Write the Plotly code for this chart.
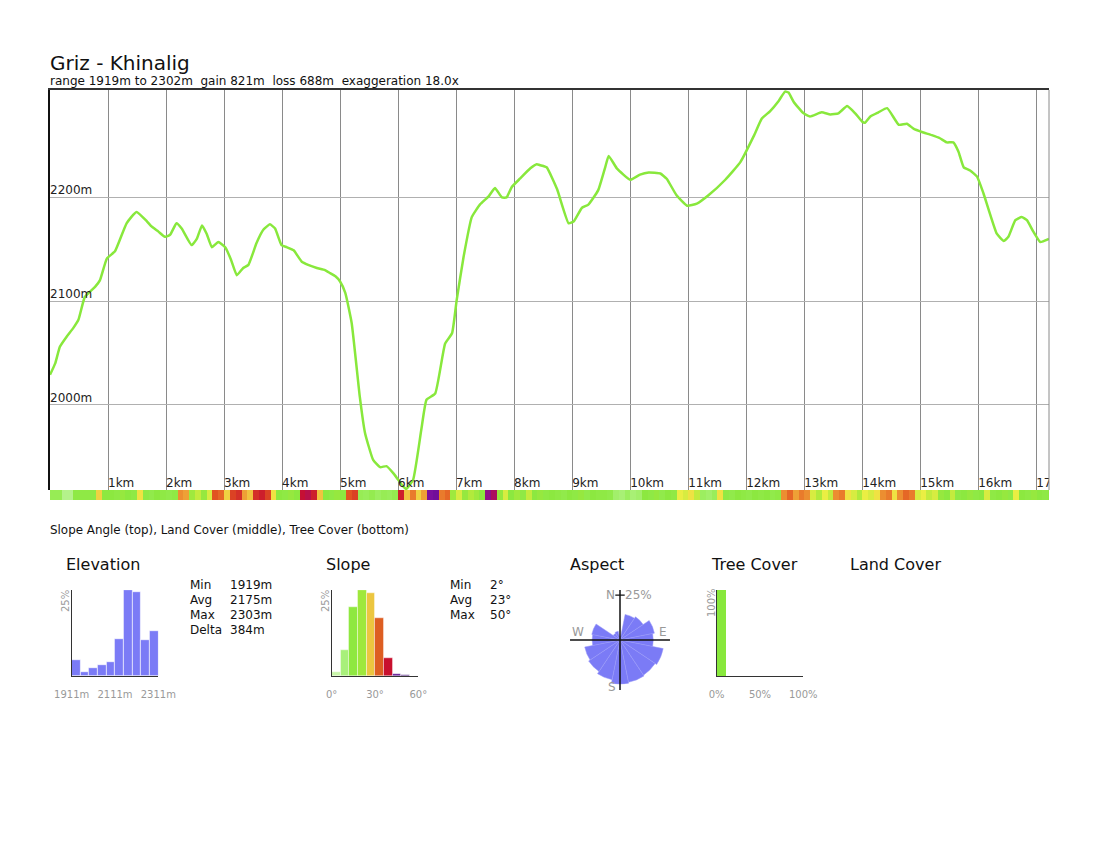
import plotly.graph_objects as go

W, H = 1100, 850
def px(x): return x / W
def py(y): return 1 - y / H

# ---------------- data ----------------
dist_km = [0.00, 0.09, 0.17, 0.29, 0.40, 0.49, 0.60, 0.78, 0.86, 0.98, 1.12, 1.32, 1.49, 1.67, 1.75,
           1.87, 1.98, 2.07, 2.18, 2.27, 2.44, 2.53, 2.62, 2.70, 2.79, 2.90, 3.02, 3.12, 3.22, 3.33,
           3.42, 3.56, 3.68, 3.79, 3.88, 3.99, 4.08, 4.20, 4.34, 4.45, 4.60, 4.74, 4.83, 4.92, 5.00,
           5.09, 5.20, 5.34, 5.43, 5.57, 5.69, 5.80, 5.92, 6.00, 6.08, 6.14, 6.26, 6.40, 6.49, 6.64,
           6.81, 6.93, 7.01, 7.13, 7.27, 7.41, 7.56, 7.67, 7.79, 7.87, 7.96, 8.10, 8.28, 8.39, 8.45,
           8.56, 8.74, 8.94, 9.03, 9.17, 9.28, 9.45, 9.57, 9.63, 9.77, 10.00, 10.17, 10.32, 10.52, 10.63,
           10.80, 10.98, 11.15, 11.35, 11.64, 11.90, 12.13, 12.27, 12.41, 12.56, 12.67, 12.73, 12.82, 12.99, 13.10,
           13.30, 13.45, 13.59, 13.74, 13.88, 14.00, 14.05, 14.14, 14.28, 14.43, 14.63, 14.77, 14.89, 15.03, 15.20,
           15.34, 15.46, 15.57, 15.66, 15.75, 15.86, 15.98, 16.09, 16.32, 16.44, 16.52, 16.64, 16.75, 16.84, 16.95,
           17.07, 17.22]
elev_m = [2029, 2040, 2056, 2066, 2074, 2082, 2104, 2114, 2120, 2141, 2148, 2175, 2186, 2177, 2172,
          2167, 2162, 2164, 2175, 2170, 2154, 2160, 2173, 2165, 2152, 2157, 2152, 2140, 2125, 2132,
          2135, 2156, 2169, 2174, 2170, 2154, 2152, 2149, 2138, 2135, 2132, 2130, 2127, 2124, 2119,
          2108, 2079, 2008, 1973, 1947, 1940, 1941, 1934, 1928, 1922, 1919, 1928, 1976, 2005, 2011,
          2059, 2069, 2101, 2143, 2181, 2193, 2201, 2209, 2200, 2200, 2210, 2218, 2228, 2232, 2231,
          2229, 2208, 2175, 2177, 2190, 2193, 2207, 2229, 2240, 2228, 2217, 2222, 2224, 2223, 2218,
          2202, 2192, 2194, 2202, 2217, 2234, 2259, 2276, 2283, 2293, 2302, 2301, 2292, 2281, 2278,
          2282, 2280, 2281, 2288, 2281, 2273, 2272, 2278, 2282, 2286, 2270, 2271, 2266, 2263, 2260,
          2257, 2253, 2253, 2244, 2229, 2226, 2220, 2204, 2165, 2158, 2162, 2178, 2181, 2178, 2167,
          2157, 2160]

# slope angle (deg) along the track, one value per 0.1 km
strip_slope = [14, 14, 8, 8, 17, 17, 17, 17, 27, 18, 18, 17, 19, 18, 17, 26, 17, 16, 18, 17,
               16, 17, 31, 30, 20, 23, 19, 24, 34, 33, 27, 35, 36, 30, 28, 36, 37, 35, 26, 18,
               17, 19, 18, 38, 39, 37, 28, 18, 17, 19, 18, 34, 35, 14, 13, 15, 12, 14, 13, 15,
               37, 28, 32, 27, 30, 44, 45, 32, 33, 20, 24, 19, 22, 20, 18, 42, 40, 19, 24, 18,
               20, 17, 23, 18, 19, 17, 18, 17, 16, 18, 17, 19, 16, 18, 17, 17, 16, 11, 10, 12,
               10, 11, 18, 17, 19, 16, 18, 17, 25, 24, 26, 23, 12, 11, 13, 26, 17, 16, 18, 17,
               16, 18, 17, 18, 16, 17, 31, 33, 30, 32, 31, 24, 22, 25, 23, 31, 32, 26, 24, 22,
               25, 24, 26, 31, 32, 26, 31, 33, 32, 24, 25, 23, 24, 19, 18, 23, 17, 18, 19, 17,
               18, 24, 17, 18, 19, 17, 25, 18, 17, 19, 18, 17, 18]
strip_step_km = 0.1

km_ticks = list(range(1, 18))
elev_gridlines = [2000, 2100, 2200]

elev_hist_edges_start = 1911
elev_hist_bin_m = 40
elev_hist_pct = [4.6, 1.3, 2.4, 3.2, 4.0, 10.8, 25.0, 24.5, 10.5, 13.2]

slope_bin_deg = 6
slope_hist_pct = [1.3, 7.6, 20.0, 25.0, 24.0, 16.8, 5.3, 0.6, 0.3, 0.0]
slope_bin_colors = ['#c8f5a8', '#a8f07a', '#8fe840', '#9fe83c', '#ecc640',
                    '#dd5e22', '#c8102e', '#5c1090', '#3c0870', '#300060']

aspect_dirs = [0, 22.5, 45, 67.5, 90, 112.5, 135, 157.5, 180, 202.5, 225, 247.5, 270, 292.5, 315, 337.5]
aspect_pct = [2.0, 14.5, 15.5, 19.5, 18.5, 24.5, 23.5, 24.0, 24.5, 22.5, 21.0, 20.0, 15.5, 16.0, 4.5, 5.0]

tree_cover_bins = [5]
tree_cover_pct = [100]

elev_stats = [("Min", "1919m"), ("Avg", "2175m"), ("Max", "2303m"), ("Delta", "384m")]
slope_stats = [("Min", "2°"), ("Avg", "23°"), ("Max", "50°")]

title_text = "Griz - Khinalig"
subtitle_parts = ["range 1919m to 2302m", "gain 821m", "loss 688m", "exaggeration 18.0x"]
strip_caption = "Slope Angle (top), Land Cover (middle), Tree Cover (bottom)"

LINE_GREEN = '#88e83c'
BLUE = '#7b7bf6'
GRAY_TXT = '#999999'
FONT = 'DejaVu Sans'

fig = go.Figure()

# ---------------- main profile ----------------
x_max = 17.22
y_min, y_max = 1918, 2303.5
fig.add_trace(go.Scatter(x=dist_km, y=elev_m, mode='lines',
                         line=dict(color=LINE_GREEN, width=2.5, shape='spline', smoothing=0.4),
                         xaxis='x', yaxis='y', hoverinfo='skip', cliponaxis=True))
fig.add_trace(go.Scatter(x=km_ticks, y=[y_min] * len(km_ticks), mode='text',
                         text=[f"{k}km" for k in km_ticks], textposition='top right',
                         textfont=dict(size=12, color='#222', family=FONT),
                         xaxis='x', yaxis='y', cliponaxis=True, hoverinfo='skip'))
fig.add_trace(go.Scatter(x=[0] * len(elev_gridlines), y=elev_gridlines, mode='text',
                         text=[f"{v}m" for v in elev_gridlines], textposition='top right',
                         textfont=dict(size=12, color='#222', family=FONT),
                         xaxis='x', yaxis='y', cliponaxis=True, hoverinfo='skip'))

# ---------------- slope strip ----------------
strip_x = [strip_step_km * (i + 0.5) for i in range(len(strip_slope))]
strip_scale = [
    [0.0, '#e4f8d8'], [0.10, '#c0f4a0'], [0.20, '#9cee60'], [0.30, '#8ce840'],
    [0.37, '#b4ea3c'], [0.42, '#eeee44'], [0.47, '#f0c040'], [0.52, '#ec8a30'],
    [0.57, '#e05020'], [0.63, '#c81030'], [0.72, '#8010a0'], [0.80, '#5a0890'], [1.0, '#300050']]
fig.add_trace(go.Heatmap(z=[strip_slope], x=strip_x, y=[0.5], zmin=0, zmax=60,
                         colorscale=strip_scale, showscale=False, xaxis='x2', yaxis='y2',
                         hoverinfo='skip'))

# ---------------- elevation histogram ----------------
elev_centers = [elev_hist_edges_start + elev_hist_bin_m * (i + 0.5) for i in range(len(elev_hist_pct))]
fig.add_trace(go.Bar(x=elev_centers, y=elev_hist_pct, width=elev_hist_bin_m,
                     marker=dict(color=BLUE, line=dict(color='white', width=0.6)),
                     xaxis='x3', yaxis='y3', hoverinfo='skip'))

# ---------------- slope histogram ----------------
slope_centers = [slope_bin_deg * (i + 0.5) for i in range(len(slope_hist_pct))]
fig.add_trace(go.Bar(x=slope_centers, y=slope_hist_pct, width=slope_bin_deg,
                     marker=dict(color=slope_bin_colors, line=dict(color='white', width=0.4)),
                     xaxis='x4', yaxis='y4', hoverinfo='skip'))

# ---------------- tree cover ----------------
fig.add_trace(go.Bar(x=tree_cover_bins, y=tree_cover_pct, width=10,
                     marker=dict(color=LINE_GREEN, line=dict(width=0)),
                     xaxis='x5', yaxis='y5', hoverinfo='skip'))

# ---------------- aspect rose ----------------
R_AX = 27.8
fig.add_trace(go.Barpolar(r=aspect_pct, theta=aspect_dirs, width=[22.5] * len(aspect_dirs),
                          marker=dict(color=BLUE, line=dict(color='#9a9af8', width=0.5)),
                          hoverinfo='skip'))
fig.add_trace(go.Scatterpolar(r=[R_AX, 0, R_AX], theta=[0, 0, 180], mode='lines',
                              line=dict(color='#111', width=1.5), hoverinfo='skip'))
fig.add_trace(go.Scatterpolar(r=[R_AX, 0, R_AX], theta=[90, 90, 270], mode='lines',
                              line=dict(color='#111', width=1.5), hoverinfo='skip'))
fig.add_trace(go.Scatterpolar(r=[25.1, 25.1], theta=[-6, 6], mode='lines',
                              line=dict(color='#111', width=1.2), hoverinfo='skip'))

# ---------------- axes ----------------
hidden = dict(visible=False, fixedrange=True, automargin=False)
small_x = dict(showline=True, linecolor='#333', linewidth=1, showgrid=False, zeroline=False,
               ticks='outside', ticklen=9, tickcolor='rgba(0,0,0,0)', automargin=False,
               tickfont=dict(size=10, color=GRAY_TXT, family=FONT), fixedrange=True)
small_y = dict(showline=True, linecolor='#333', linewidth=1, showgrid=False, zeroline=False,
               showticklabels=False, ticks='', fixedrange=True, automargin=False)

fig.update_layout(
    width=W, height=H, autosize=False, margin=dict(l=0, r=0, t=0, b=0, pad=0, autoexpand=False),
    paper_bgcolor='white', plot_bgcolor='white', showlegend=False,
    font=dict(family=FONT, color='#111'),
    bargap=0,
    xaxis=dict(domain=[px(50), px(1049)], range=[0, x_max], anchor='y', side='top',
               showline=True, linecolor='#333', linewidth=1.5, automargin=False,
               showgrid=True, tick0=0, dtick=1, gridcolor='#8a8a8a', gridwidth=1,
               showticklabels=False, ticks='', zeroline=False, fixedrange=True),
    yaxis=dict(domain=[py(490), py(90)], range=[y_min, y_max], anchor='x',
               showline=True, linecolor='#111', linewidth=1.5, automargin=False,
               tickvals=elev_gridlines, showgrid=True, gridcolor='#b0b0b0', gridwidth=1,
               showticklabels=False, ticks='', zeroline=False, fixedrange=True),
    xaxis2=dict(domain=[px(50), px(1049)], range=[0, x_max], anchor='y2', **hidden),
    yaxis2=dict(domain=[py(500), py(490)], range=[0, 1], anchor='x2', **hidden),
    xaxis3=dict(domain=[px(71.7), px(158.3)], range=[1911, 2311], anchor='y3',
                tickvals=[1911, 2111, 2311], ticktext=['1911m', '2111m', '2311m'], **small_x),
    yaxis3=dict(domain=[py(676), py(590)], range=[0, 25], anchor='x3', **small_y),
    xaxis4=dict(domain=[px(331.7), px(418.3)], range=[0, 60], anchor='y4',
                tickvals=[0, 30, 60], ticktext=['0°', '30°', '60°'], **small_x),
    yaxis4=dict(domain=[py(676), py(590)], range=[0, 25], anchor='x4', **small_y),
    xaxis5=dict(domain=[px(716.7), px(803.3)], range=[0, 100], anchor='y5',
                tickvals=[0, 50, 100], ticktext=['0%', '50%', '100%'], **small_x),
    yaxis5=dict(domain=[py(676), py(590)], range=[0, 100], anchor='x5', **small_y),
    polar=dict(domain=dict(x=[px(570), px(670)], y=[py(690), py(590)]), bgcolor='rgba(0,0,0,0)',
               radialaxis=dict(range=[0, R_AX], visible=False),
               angularaxis=dict(rotation=90, direction='clockwise', visible=False)),
)

# right border of main plot
fig.add_shape(type='line', xref='x domain', yref='y domain', x0=1, x1=1, y0=0, y1=1,
              line=dict(color='#8a8a8a', width=1))

anns = []
def txt(x, y, s, size, color='#111', angle=0, anchor='left'):
    anns.append(dict(x=px(x), y=py(y), xref='paper', yref='paper', text=s, showarrow=False,
                     xanchor=anchor, yanchor='middle', textangle=angle,
                     font=dict(size=size, color=color, family=FONT)))

NB2 = "\u00a0\u00a0"
txt(48, 63, title_text, 20)
txt(48, 80.5, NB2.join(subtitle_parts), 12)
txt(48, 530, strip_caption, 11.9)

txt(64, 564, "Elevation", 16)
txt(324, 564, "Slope", 16)
txt(568, 564, "Aspect", 16)
txt(709, 564, "Tree Cover", 16)
txt(848, 564, "Land Cover", 16)

for i, (k, v) in enumerate(elev_stats):
    txt(188, 585 + 15 * i, k, 12)
    txt(228, 585 + 15 * i, v, 12)
for i, (k, v) in enumerate(slope_stats):
    txt(448, 585 + 15 * i, k, 12)
    txt(488, 585 + 15 * i, v, 12)

txt(65, 601, "25%", 10, GRAY_TXT, -90, 'center')
txt(325, 601, "25%", 10, GRAY_TXT, -90, 'center')
txt(711, 603, "100%", 10, GRAY_TXT, -90, 'center')

txt(610, 595, "N", 12, GRAY_TXT, 0, 'center')
txt(623, 595, "25%", 12, GRAY_TXT, 0, 'left')
txt(663, 632, "E", 12, GRAY_TXT, 0, 'center')
txt(578, 632, "W", 12, GRAY_TXT, 0, 'center')
txt(612, 687, "S", 12, GRAY_TXT, 0, 'center')

fig.update_layout(annotations=anns)

fig.write_html("out.html")
